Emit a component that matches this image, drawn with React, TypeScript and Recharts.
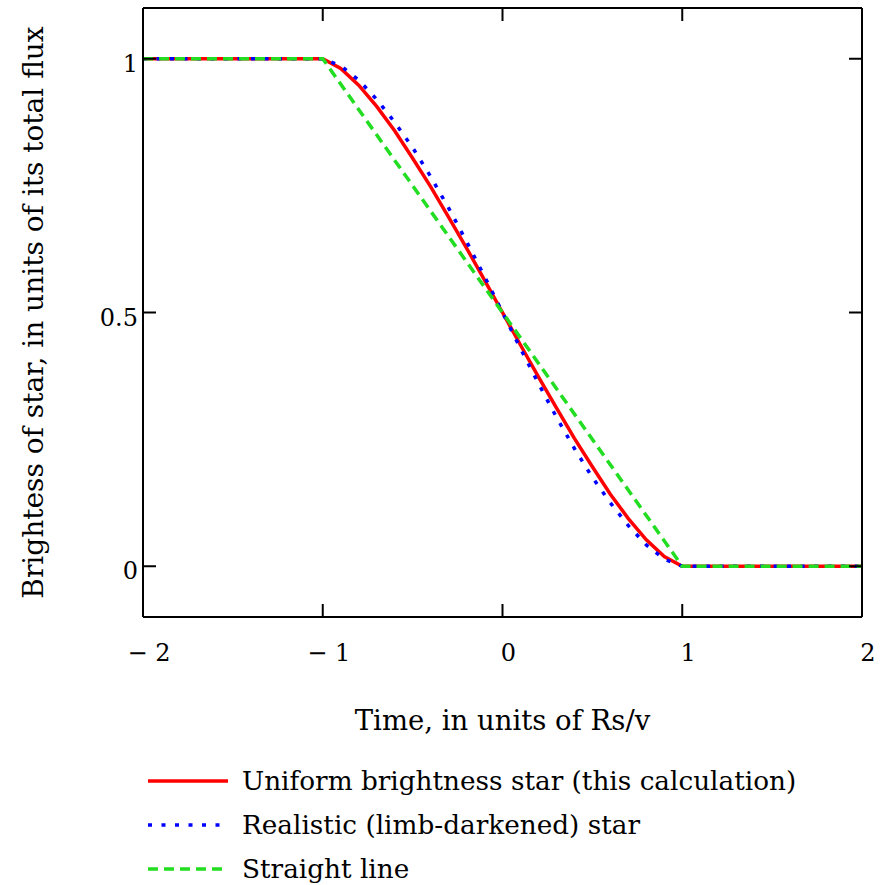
import React from 'react';
import { LineChart, Line, XAxis, YAxis } from 'recharts';

// time axis, in units of Rs/v
const timeCurve = [-2, -1, -0.9, -0.8, -0.7, -0.6, -0.5, -0.4, -0.3, -0.2, -0.1, 0, 0.1, 0.2, 0.3, 0.4, 0.5, 0.6, 0.7, 0.8, 0.9, 1, 2];
const uniformBrightness = [1, 1, 0.981, 0.948, 0.906, 0.858, 0.804, 0.748, 0.688, 0.627, 0.564, 0.5, 0.436, 0.373, 0.312, 0.252, 0.196, 0.142, 0.094, 0.052, 0.019, 0, 0];
const limbDarkened = [1, 1, 0.986, 0.958, 0.92, 0.875, 0.825, 0.768, 0.706, 0.64, 0.571, 0.5, 0.429, 0.36, 0.294, 0.232, 0.175, 0.125, 0.08, 0.042, 0.014, 0, 0];
const timeStraight = [-2, -1, 1, 2];
const straightLine = [1, 1, 0, 0];

const xTicks = [-2, -1, 0, 1, 2];
const yTicks = [0, 0.5, 1];

const seriesNames = [
  'Uniform brightness star (this calculation)',
  'Realistic (limb-darkened) star',
  'Straight line',
];

const TEXT_FONT = '"DejaVu Serif", serif';
const TICK_LEN = 13;

const toPoints = (xs: number[], ys: number[]) => xs.map((t, i) => ({ t, y: ys[i] }));

const uniformData = toPoints(timeCurve, uniformBrightness);
const limbData = toPoints(timeCurve, limbDarkened);
const straightData = toPoints(timeStraight, straightLine);

const fmtX = (v: number) => (v < 0 ? `\u2212 ${Math.abs(v)}` : `${v}`);

const BottomTick = ({ x, y, payload }: any) => (
  <g>
    <line x1={x} y1={y} x2={x} y2={y - TICK_LEN} stroke="#000" strokeWidth={2} />
    <text x={x + 6} y={y + 44} textAnchor="middle" fontSize={24} fontFamily={TEXT_FONT} fill="#000">
      {fmtX(payload.value)}
    </text>
  </g>
);

const TopTick = ({ x, y }: any) => (
  <line x1={x} y1={y} x2={x} y2={y + TICK_LEN} stroke="#000" strokeWidth={2} />
);

const LeftTick = ({ x, y, payload }: any) => (
  <g>
    <line x1={x} y1={y} x2={x + TICK_LEN} y2={y} stroke="#000" strokeWidth={2} />
    <text x={x - 5} y={y + 13} textAnchor="end" fontSize={24} fontFamily={TEXT_FONT} fill="#000">
      {payload.value}
    </text>
  </g>
);

const RightTick = ({ x, y }: any) => (
  <line x1={x} y1={y} x2={x - TICK_LEN} y2={y} stroke="#000" strokeWidth={2} />
);

const XTitle = ({ viewBox }: any) => (
  <text
    x={viewBox.x + viewBox.width / 2}
    y={viewBox.y + 113}
    textAnchor="middle"
    fontSize={27.5}
    fontFamily={TEXT_FONT}
    fill="#000"
  >
    Time, in units of Rs/v
  </text>
);

const YTitle = ({ viewBox }: any) => {
  const cx = 43;
  const cy = viewBox.y + viewBox.height / 2;
  return (
    <text
      x={cx}
      y={cy}
      transform={`rotate(-90 ${cx} ${cy})`}
      textAnchor="middle"
      fontSize={28}
      fontFamily={TEXT_FONT}
      fill="#000"
    >
      Brightess of star, in units of its total flux
    </text>
  );
};

const legendStyles = [
  { color: '#ff0000', dash: undefined as string | undefined },
  { color: '#0000ff', dash: '4 9.5' },
  { color: '#22dd22', dash: '10 6' },
];

const LegendBox = () => (
  <div style={{ position: 'absolute', left: 143, top: 759, fontFamily: TEXT_FONT, fontSize: 26.3, color: '#000' }}>
    {seriesNames.map((name, i) => (
      <div key={name} style={{ display: 'flex', alignItems: 'center', height: 44 }}>
        <svg width={99} height={10}>
          <line
            x1={5}
            y1={5}
            x2={85}
            y2={5}
            stroke={legendStyles[i].color}
            strokeWidth={3.5}
            strokeDasharray={legendStyles[i].dash}
          />
        </svg>
        <span style={{ lineHeight: '44px' }}>{name}</span>
      </div>
    ))}
  </div>
);

const frameAxis = { stroke: '#000', strokeWidth: 2 };

export default function App() {
  return (
    <div style={{ position: 'absolute', left: 0, top: 0, width: 888, height: 885, background: '#fff' }}>
      <LineChart width={888} height={885} margin={{ top: 7, right: 25, bottom: 205, left: 0 }}>
        <XAxis
          xAxisId="b"
          dataKey="t"
          type="number"
          domain={[-2, 2]}
          ticks={xTicks}
          allowDataOverflow
          height={63}
          tickSize={0}
          tickMargin={0}
          tickLine={false}
          axisLine={frameAxis}
          tick={<BottomTick />}
          label={<XTitle />}
        />
        <XAxis
          xAxisId="top"
          orientation="top"
          dataKey="t"
          type="number"
          domain={[-2, 2]}
          ticks={xTicks}
          allowDataOverflow
          height={1}
          tickSize={0}
          tickMargin={0}
          tickLine={false}
          axisLine={frameAxis}
          tick={<TopTick />}
        />
        <YAxis
          yAxisId="l"
          type="number"
          domain={[-0.1, 1.1]}
          ticks={yTicks}
          allowDataOverflow
          width={143}
          tickSize={0}
          tickMargin={0}
          tickLine={false}
          axisLine={frameAxis}
          tick={<LeftTick />}
          label={<YTitle />}
        />
        <YAxis
          yAxisId="r"
          orientation="right"
          type="number"
          domain={[-0.1, 1.1]}
          ticks={yTicks}
          allowDataOverflow
          width={1}
          tickSize={0}
          tickMargin={0}
          tickLine={false}
          axisLine={frameAxis}
          tick={<RightTick />}
        />
        {/* invisible series tied to the top and right frame axes */}
        <Line
          xAxisId="top"
          yAxisId="r"
          data={straightData}
          dataKey="y"
          stroke="none"
          dot={false}
          legendType="none"
          isAnimationActive={false}
        />
        <Line
          xAxisId="b"
          yAxisId="l"
          data={uniformData}
          dataKey="y"
          type="linear"
          stroke="#ff0000"
          strokeWidth={3.5}
          dot={false}
          isAnimationActive={false}
        />
        <Line
          xAxisId="b"
          yAxisId="l"
          data={limbData}
          dataKey="y"
          type="linear"
          stroke="#0000ff"
          strokeWidth={3.5}
          strokeDasharray="4 9.5"
          dot={false}
          isAnimationActive={false}
        />
        <Line
          xAxisId="b"
          yAxisId="l"
          data={straightData}
          dataKey="y"
          type="linear"
          stroke="#22dd22"
          strokeWidth={3.5}
          strokeDasharray="10 6"
          dot={false}
          isAnimationActive={false}
        />
      </LineChart>
      <LegendBox />
    </div>
  );
}
